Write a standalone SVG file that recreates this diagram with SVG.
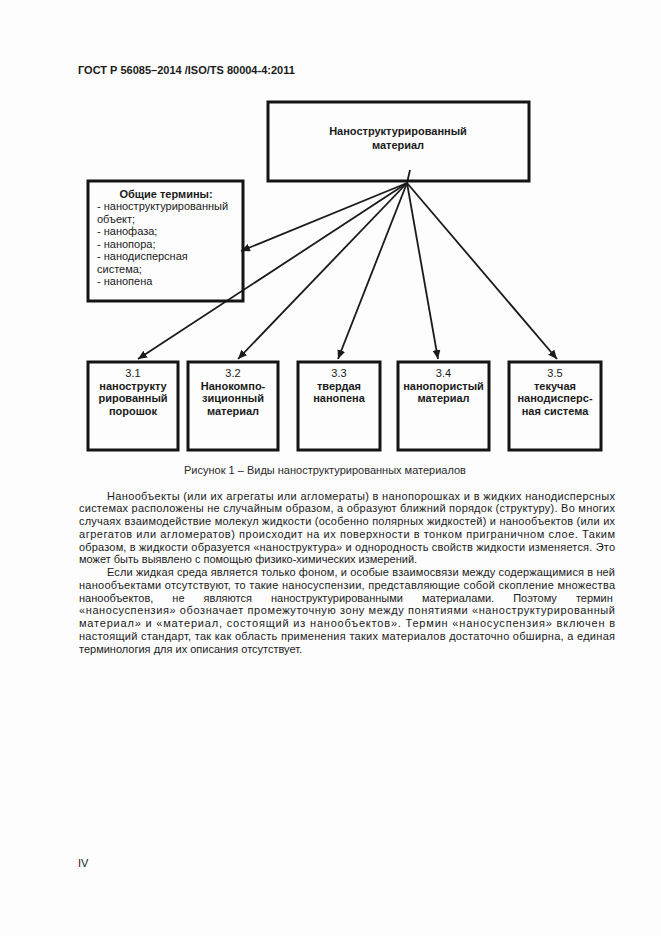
<svg xmlns="http://www.w3.org/2000/svg" width="661" height="936" viewBox="0 0 661 936">
<style>
text{font-family:"Liberation Sans",Arial,sans-serif;fill:#1a1a1a}
.hdr{font-size:11px;font-weight:bold}
.b{font-size:11px;font-weight:bold}
.r{font-size:11px}
.c{text-anchor:middle}
.box{fill:none;stroke:#141414;stroke-width:3}
.con{stroke:#1a1a1a;stroke-width:1.8;fill:none}
.p{font-size:11px}
</style>
<defs>
<marker id="ah" markerUnits="userSpaceOnUse" markerWidth="10" markerHeight="8" refX="9" refY="4" orient="auto">
<path d="M0,0 L9,4 L0,8 z" fill="#1a1a1a"/>
</marker>
</defs>
<rect width="661" height="936" fill="#fdfdfd"/>
<text class="hdr" x="78" y="74">ГОСТ Р 56085–2014 /ISO/TS 80004-4:2011</text>

<g id="connectors">
<line class="con" x1="407" y1="183" x2="410" y2="170"/>
<line class="con" x1="407" y1="183" x2="241" y2="251" marker-end="url(#ah)"/>
<line class="con" x1="407" y1="183" x2="138" y2="359" marker-end="url(#ah)"/>
<line class="con" x1="407" y1="183" x2="238" y2="359" marker-end="url(#ah)"/>
<line class="con" x1="407" y1="183" x2="338" y2="359" marker-end="url(#ah)"/>
<line class="con" x1="407" y1="183" x2="438" y2="359" marker-end="url(#ah)"/>
<line class="con" x1="407" y1="183" x2="557" y2="359" marker-end="url(#ah)"/>
</g>

<g id="node-main">
<rect class="box" x="268" y="102" width="261" height="79"/>
<text class="b c" x="398" y="135">Наноструктурированный</text>
<text class="b c" x="398" y="149">материал</text>
</g>

<g id="node-general">
<rect class="box" x="88" y="181" width="155" height="120"/>
<text class="b c" x="166" y="198">Общие термины:</text>
<text class="r" x="97" y="210">- наноструктурированный</text>
<text class="r" x="97" y="222.5">объект;</text>
<text class="r" x="97" y="235">- нанофаза;</text>
<text class="r" x="97" y="247.5">- нанопора;</text>
<text class="r" x="97" y="260">- нанодисперсная</text>
<text class="r" x="97" y="272.5">система;</text>
<text class="r" x="97" y="285">- нанопена</text>
</g>

<g id="node-3-1">
<rect class="box" x="88" y="362" width="90" height="88"/>
<text class="r c" x="133" y="377">3.1</text>
<text class="b c" x="133" y="389.5">нанострукту</text>
<text class="b c" x="133" y="402">рированный</text>
<text class="b c" x="133" y="415">порошок</text>
</g>

<g id="node-3-2">
<rect class="box" x="188" y="362" width="90" height="88"/>
<text class="r c" x="233" y="377">3.2</text>
<text class="b c" x="233" y="389.5">Нанокомпо-</text>
<text class="b c" x="233" y="402">зиционный</text>
<text class="b c" x="233" y="415">материал</text>
</g>

<g id="node-3-3">
<rect class="box" x="298" y="362" width="82" height="88"/>
<text class="r c" x="339" y="377">3.3</text>
<text class="b c" x="339" y="389.5">твердая</text>
<text class="b c" x="339" y="402">нанопена</text>
</g>

<g id="node-3-4">
<rect class="box" x="398" y="362" width="91" height="88"/>
<text class="r c" x="443.5" y="377">3.4</text>
<text class="b c" x="443.5" y="389.5">нанопористый</text>
<text class="b c" x="443.5" y="402">материал</text>
</g>

<g id="node-3-5">
<rect class="box" x="509" y="362" width="92" height="88"/>
<text class="r c" x="555" y="377">3.5</text>
<text class="b c" x="555" y="389.5">текучая</text>
<text class="b c" x="555" y="402">нанодисперс-</text>
<text class="b c" x="555" y="415">ная система</text>
</g>

<text class="r c" x="325" y="474" style="fill:#2a2a2a">Рисунок 1 – Виды наноструктурированных материалов</text>

<g id="body-text">
<text class="p" x="107" y="499.5" textLength="508" lengthAdjust="spacing">Нанообъекты (или их агрегаты или агломераты) в нанопорошках и в жидких нанодисперсных</text>
<text class="p" x="79" y="512.3" textLength="536" lengthAdjust="spacing">системах расположены не случайным образом, а образуют ближний порядок (структуру). Во многих</text>
<text class="p" x="79" y="525" textLength="536" lengthAdjust="spacing">случаях взаимодействие молекул жидкости (особенно полярных жидкостей) и нанообъектов (или их</text>
<text class="p" x="79" y="537.8" textLength="536" lengthAdjust="spacing">агрегатов или агломератов) происходит на их поверхности в тонком приграничном слое. Таким</text>
<text class="p" x="79" y="550.5" textLength="536" lengthAdjust="spacing">образом, в жидкости образуется «наноструктура» и однородность свойств жидкости изменяется. Это</text>
<text class="p" x="79" y="563.3">может быть выявлено с помощью физико-химических измерений.</text>
<text class="p" x="107" y="576" textLength="508" lengthAdjust="spacing">Если жидкая среда является только фоном, и особые взаимосвязи между содержащимися в ней</text>
<text class="p" x="79" y="588.8" textLength="536" lengthAdjust="spacing">нанообъектами отсутствуют, то такие наносуспензии, представляющие собой скопление множества</text>
<text class="p" x="79" y="601.5" word-spacing="16">нанообъектов, не являются наноструктурированными материалами. Поэтому термин</text>
<text class="p" x="79" y="614.3" textLength="536" lengthAdjust="spacing">«наносуспензия» обозначает промежуточную зону между понятиями «наноструктурированный</text>
<text class="p" x="79" y="627" textLength="536" lengthAdjust="spacing">материал» и «материал, состоящий из нанообъектов». Термин «наносуспензия» включен в</text>
<text class="p" x="79" y="639.8" textLength="536" lengthAdjust="spacing">настоящий стандарт, так как область применения таких материалов достаточно обширна, а единая</text>
<text class="p" x="79" y="652.5">терминология для их описания отсутствует.</text>
</g>

<text class="r" x="78" y="867">IV</text>
</svg>
